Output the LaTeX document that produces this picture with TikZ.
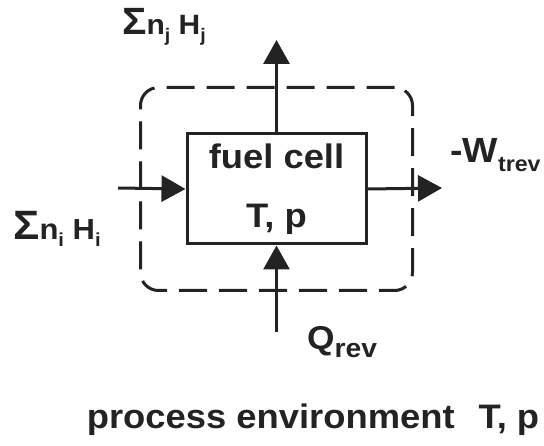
\documentclass[tikz,border=0pt]{standalone}
\usepackage{fontspec}
\setmainfont{Liberation Sans}[FakeStretch=1.07]
\usetikzlibrary{arrows.meta, positioning, fit, backgrounds}
\definecolor{inkdark}{RGB}{35,35,35}
\newcommand{\lowidx}[2][0.65]{\raisebox{-0.45ex}{\scalebox{#1}{#2}}}
\tikzset{
  cellbox/.style={rectangle, draw=inkdark, line width=3pt, minimum width=179pt,
    minimum height=110pt, align=center, text=inkdark,
    font=\fontsize{34}{59}\selectfont\bfseries},
  envbox/.style={rectangle, rounded corners=18pt, draw=inkdark, line width=3pt,
    dash pattern=on 28pt off 12pt, inner sep=45pt},
  flow/.style={-{Triangle[length=24pt, width=26pt]}, line width=3pt, color=inkdark},
  lbl/.style={inner sep=0pt, anchor=base west, text=inkdark},
}

\begin{document}
\begin{tikzpicture}[x=1pt, y=-1pt]
  \useasboundingbox (0,0) rectangle (544,446);

  %% Fuel cell and its boundary
  \node[cellbox] (cell) at (276.5,189) {fuel cell\\T, p};
  \begin{scope}[on background layer]
    \node[envbox, fit=(cell)] (env) {};
  \end{scope}

  %% Free ends of the flows
  \coordinate (inbeg)  at (118,188);
  \coordinate (outend) at (442,188);
  \coordinate (topend) at (276.5,40);
  \coordinate (qbeg)   at (276.5,332);

  \draw[flow] (inbeg)      -- (cell.west);
  \draw[flow] (cell.east)  -- (outend);
  \draw[flow] (cell.north) -- (topend);
  \draw[flow] (qbeg)       -- (cell.south);

  %% Labels
  \node[lbl, font=\fontsize{28}{30}\selectfont\bfseries] (outsum) at (122,35)
    {{\fontsize{38}{40}\selectfont Σ}n\lowidx{j} H\lowidx{j}};
  \node[lbl, font=\fontsize{29}{30}\selectfont\bfseries] (insum) at (13,240)
    {{\fontsize{41}{42}\selectfont Σ}n\lowidx{i} H\lowidx{i}};
  \node[lbl, font=\fontsize{35}{36}\selectfont\bfseries] (work) at (450,163)
    {-W\lowidx[0.62]{trev}};
  \node[lbl, font=\fontsize{33}{34}\selectfont\bfseries] (heat) at (307,350)
    {Q\lowidx[0.8]{rev}};
  \node[lbl, anchor=base, font=\fontsize{34}{36}\selectfont\bfseries] (envname)
    at (313,429) {process environment\hspace{0.7em}T, p};

\end{tikzpicture}
\end{document}
